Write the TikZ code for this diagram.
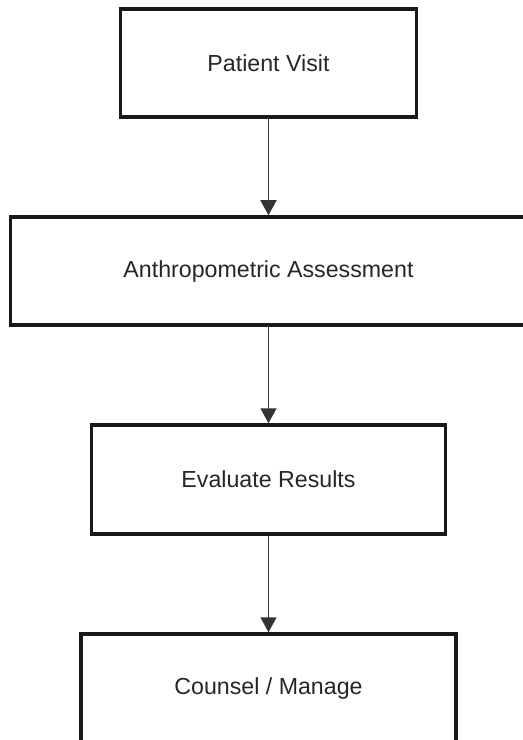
\documentclass[tikz,border=0pt]{standalone}
\usepackage{fontspec}
\setmainfont{Liberation Sans}
\usetikzlibrary{arrows.meta}

\begin{document}
\begin{tikzpicture}[
  stage/.style={rectangle, draw=black!90, line width=2pt, minimum height=2.16cm, font=\fontsize{13.2}{16}\selectfont, text=black!85, align=center},
  flow/.style={draw=black!80, line width=0.9pt, -{Triangle[width=0.32cm, length=0.3cm]}}
]
  \useasboundingbox (0,0) rectangle (10.44,-14.8);

  \node[stage, minimum width=5.92cm] (visit) at (5.37,-1.26) {Patient Visit};
  \node[stage, minimum width=10.32cm] (anthro) at (5.37,-5.42) {Anthropometric Assessment};
  \node[stage, minimum width=7.08cm, minimum height=2.18cm] (evaluate) at (5.37,-9.59) {Evaluate Results};
  \node[stage, minimum width=7.5cm] (counsel) at (5.37,-13.76) {Counsel / Manage};

  \draw[flow] (visit) -- (anthro);
  \draw[flow] (anthro) -- (evaluate);
  \draw[flow] (evaluate) -- (counsel);
\end{tikzpicture}
\end{document}
